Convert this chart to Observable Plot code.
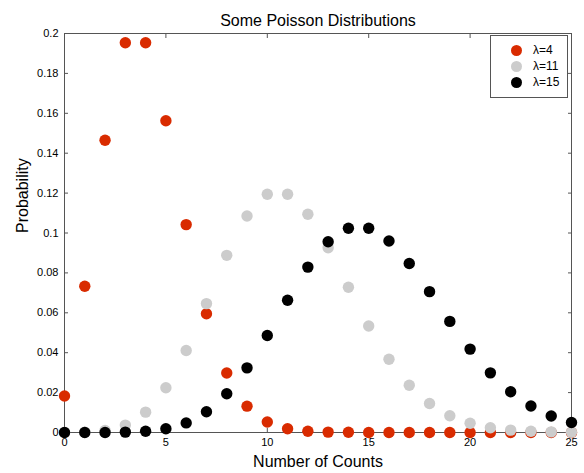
<!DOCTYPE html>
<html>
<head>
<meta charset="utf-8">
<script src="https://cdn.jsdelivr.net/npm/d3@7"></script>
<script src="https://cdn.jsdelivr.net/npm/@observablehq/plot@0.6"></script>
<style>
  body { margin: 0; background: #fff; font-family: "Liberation Sans", Arial, sans-serif; }
  #wrap { position: relative; width: 584px; height: 473px; }
  #legend { position: absolute; left: 490px; top: 35px; width: 76px; height: 61px; border: 1px solid #555; background: #fff; font-size: 12px; }
  .row { position: absolute; left: 0; height: 16px; display: flex; align-items: center; }
  .sw { width: 11px; height: 11px; border-radius: 50%; margin-left: 20px; margin-right: 11px; }
</style>
</head>
<body>
<div id="wrap"></div>
<script>
const title = "Some Poisson Distributions";
const xLabel = "Number of Counts";
const yLabel = "Probability";
const counts = [0,1,2,3,4,5,6,7,8,9,10,11,12,13,14,15,16,17,18,19,20,21,22,23,24,25];
const seriesNames = ["λ=4", "λ=11", "λ=15"];
const seriesColors = ["#d92b00", "#cccccc", "#000000"];
const lambda4 = [0.0183,0.0733,0.1465,0.1954,0.1954,0.1563,0.1042,0.0595,0.0298,0.0132,0.0053,0.0019,0.0006,0.0002,0.0001,0,0,0,0,0,0,0,0,0,0,0];
const lambda11 = [0.0000,0.0002,0.0010,0.0037,0.0102,0.0224,0.0411,0.0646,0.0888,0.1085,0.1194,0.1194,0.1094,0.0926,0.0728,0.0534,0.0367,0.0237,0.0145,0.0084,0.0046,0.0024,0.0012,0.0006,0.0003,0.0001];
const lambda15 = [0.0000,0.0000,0.0000,0.0002,0.0006,0.0019,0.0048,0.0104,0.0194,0.0324,0.0486,0.0663,0.0829,0.0956,0.1024,0.1024,0.0960,0.0847,0.0706,0.0557,0.0418,0.0299,0.0204,0.0133,0.0083,0.0050];
const xTicks = [0,5,10,15,20,25];
const yTicks = [0,0.02,0.04,0.06,0.08,0.1,0.12,0.14,0.16,0.18,0.2];

const allSeries = [lambda4, lambda11, lambda15];
const data = allSeries.flatMap((vals, i) => counts.map((c, j) => ({k: c, p: vals[j], s: seriesNames[i]})));

const fmt = d => String(+d.toFixed(2));
const axisColor = "#555";

const chart = Plot.plot({
  width: 584,
  height: 473,
  marginLeft: 64,
  marginRight: 13,
  marginTop: 33,
  marginBottom: 41,
  style: {fontFamily: "Liberation Sans, Arial, sans-serif", fontSize: "11px", color: "#000", background: "#fff"},
  x: {domain: [0, 25]},
  y: {domain: [0, 0.2]},
  color: {domain: seriesNames, range: seriesColors},
  marks: [
    Plot.frame({stroke: axisColor}),
    Plot.axisX({ticks: xTicks, tickSize: -4, tickPadding: 10, tickFormat: fmt, label: null, stroke: axisColor, fill: "#000"}),
    Plot.axisX({anchor: "top", ticks: xTicks, tickSize: -4, text: null, label: null, stroke: axisColor}),
    Plot.axisY({ticks: yTicks, tickSize: -4, tickPadding: 10, tickFormat: fmt, label: null, stroke: axisColor, fill: "#000"}),
    Plot.axisY({anchor: "right", ticks: yTicks, tickSize: -4, text: null, label: null, stroke: axisColor}),
    Plot.dot(data, {x: "k", y: "p", fill: "s", r: 5.7, stroke: null}),
    Plot.text([title], {frameAnchor: "top", dy: -19, fontSize: 16, fill: "#000"}),
    Plot.text([xLabel], {frameAnchor: "bottom", dy: 34, fontSize: 16, fill: "#000"}),
    Plot.text([yLabel], {frameAnchor: "left", dx: -42, rotate: -90, fontSize: 16, fill: "#000"})
  ]
});
const wrap = document.getElementById("wrap");
wrap.appendChild(chart);

const legend = document.createElement("div");
legend.id = "legend";
seriesNames.forEach((name, i) => {
  const row = document.createElement("div");
  row.className = "row";
  row.style.top = (6 + i * 16) + "px";
  const sw = document.createElement("span");
  sw.className = "sw";
  sw.style.background = seriesColors[i];
  const t = document.createElement("span");
  t.textContent = name;
  row.appendChild(sw);
  row.appendChild(t);
  legend.appendChild(row);
});
wrap.appendChild(legend);
</script>
</body>
</html>
